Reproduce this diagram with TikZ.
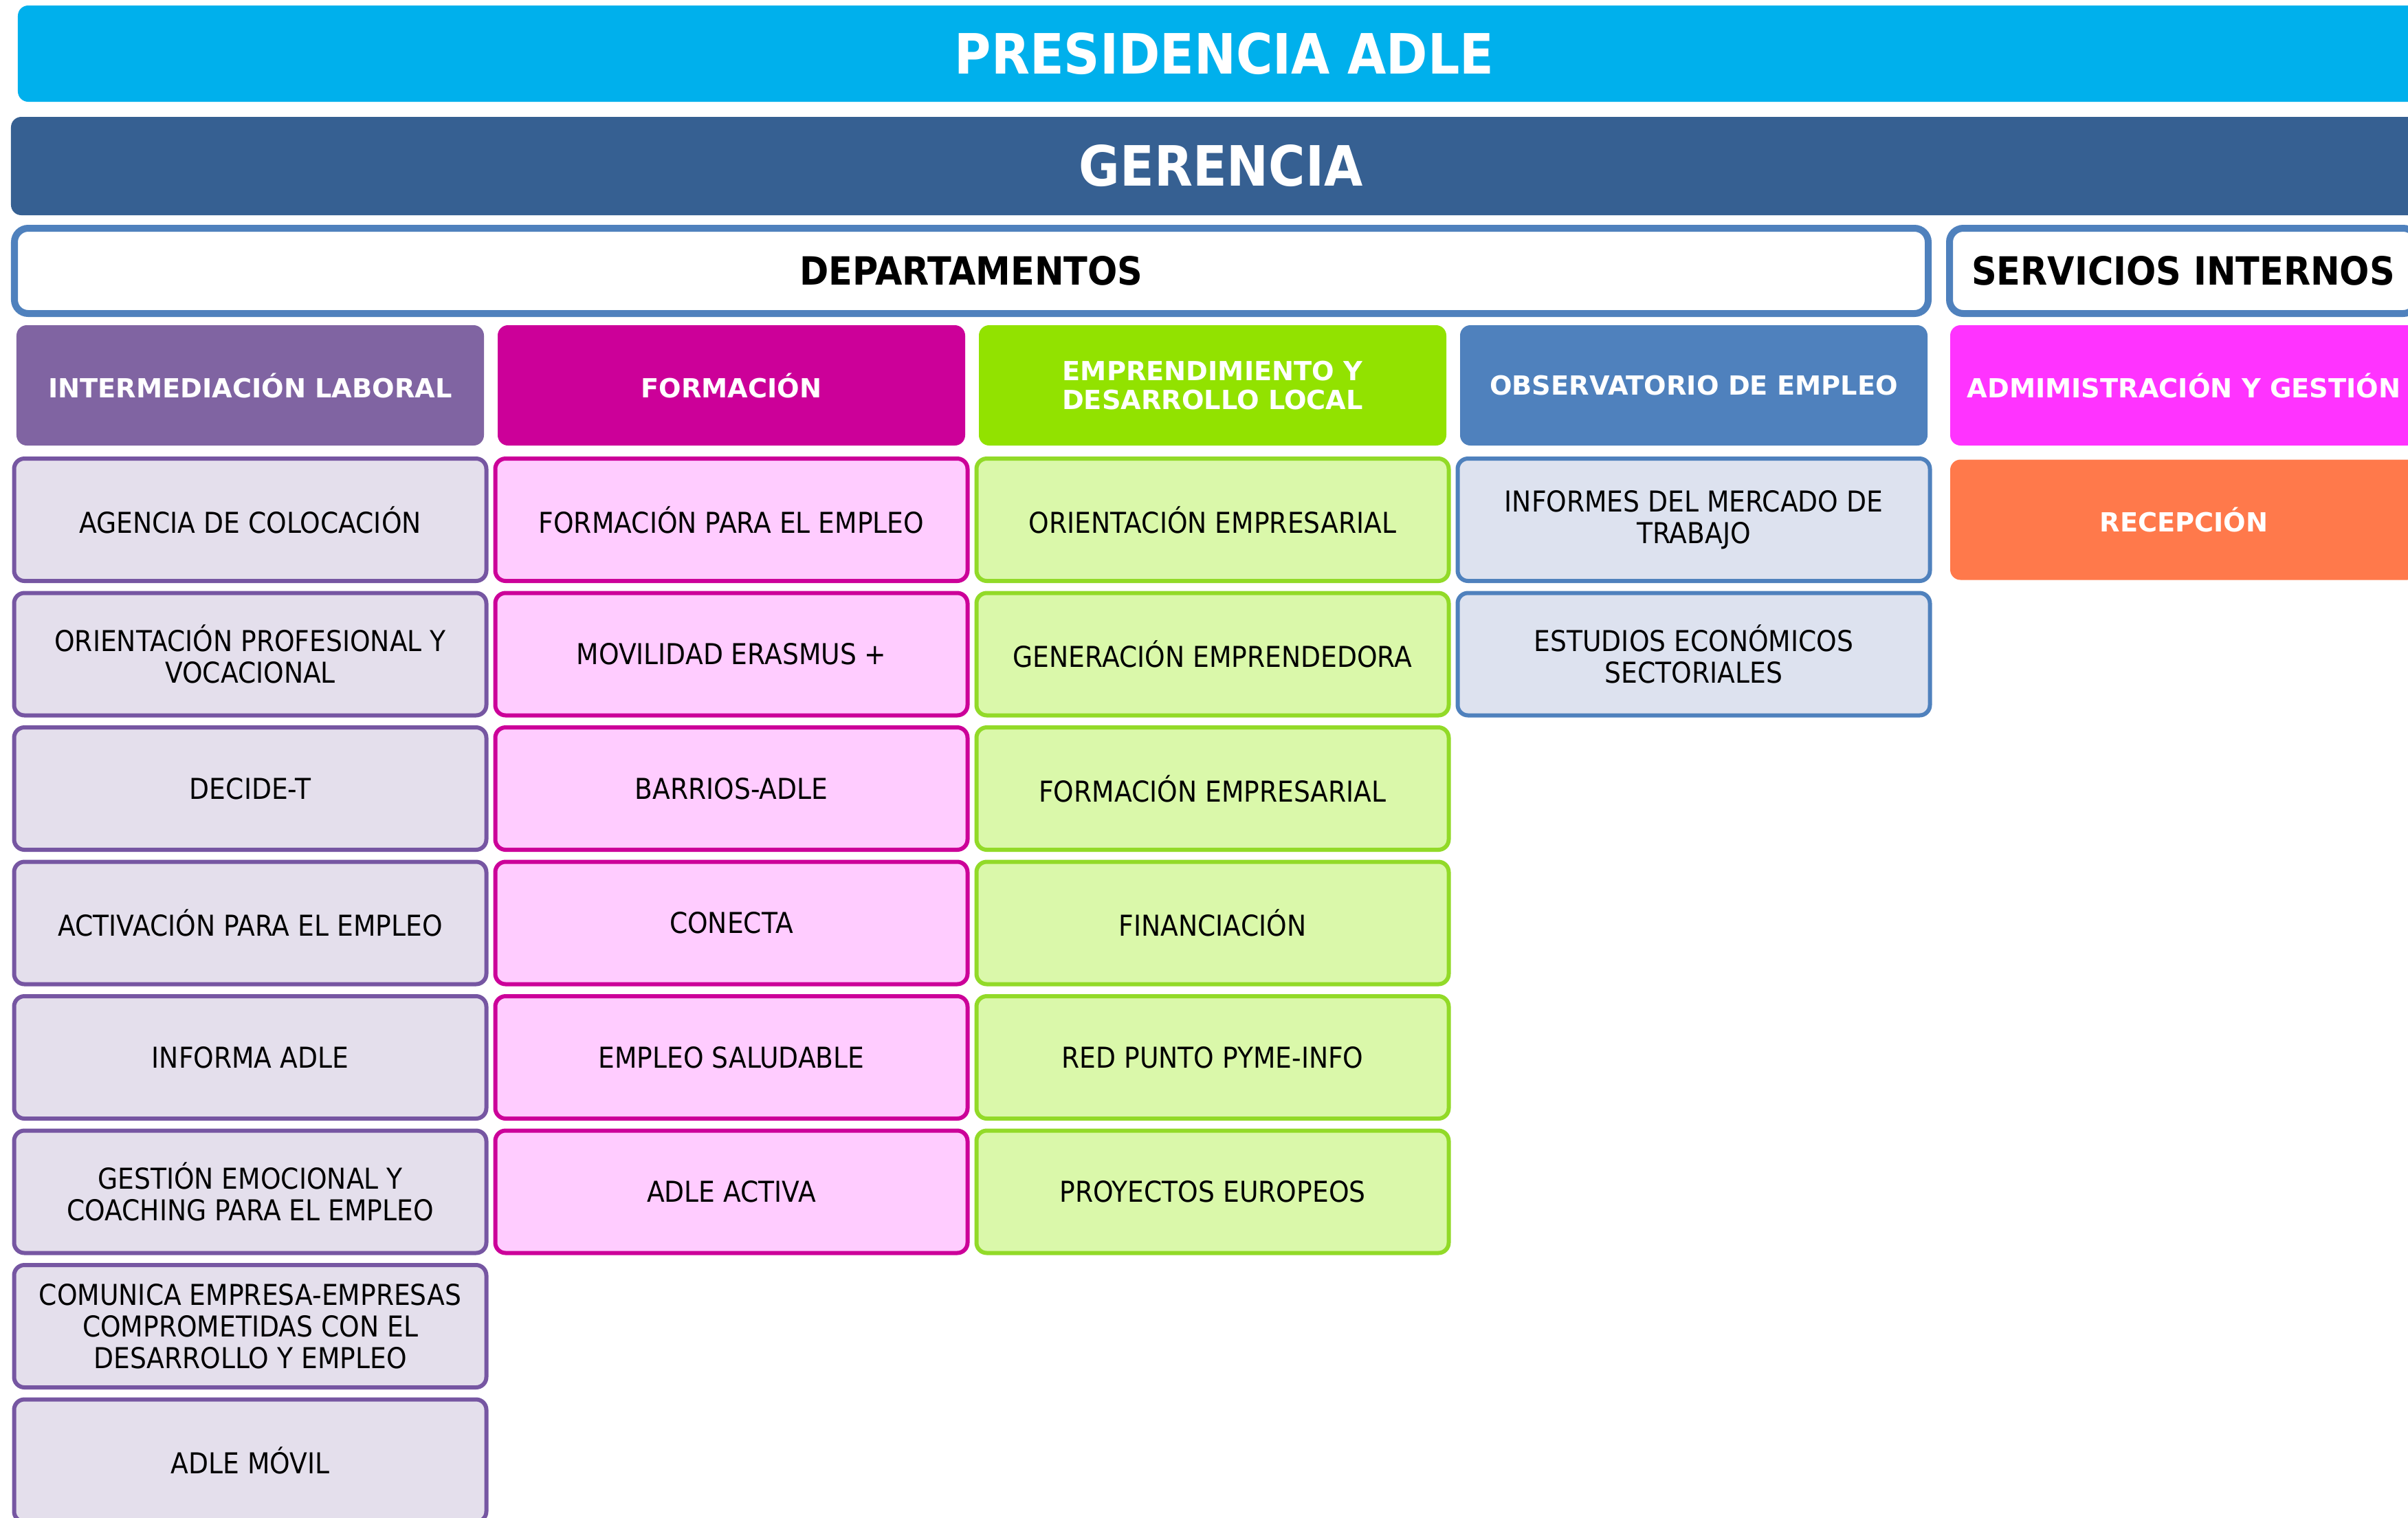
\documentclass[tikz,border=0pt]{standalone}
\usepackage{fontspec}
\setmainfont{DejaVu Sans}
\newfontfamily\narrowfont{DejaVu Sans}[FakeStretch=0.9]
\usetikzlibrary{positioning}

\definecolor{presblue}{RGB}{0,176,236}
\definecolor{gerblue}{RGB}{54,96,146}
\definecolor{deptline}{RGB}{79,129,189}
\definecolor{intpurple}{RGB}{128,100,162}
\definecolor{intline}{RGB}{118,86,162}
\definecolor{intfill}{RGB}{228,223,236}
\definecolor{formag}{RGB}{204,0,153}
\definecolor{forfill}{RGB}{255,204,255}
\definecolor{emprgreen}{RGB}{146,226,0}
\definecolor{emprline}{RGB}{146,218,40}
\definecolor{emprfill}{RGB}{218,248,170}
\definecolor{obsblue}{RGB}{79,129,189}
\definecolor{obsfill}{RGB}{221,226,239}
\definecolor{admpink}{RGB}{255,51,255}
\definecolor{recorange}{RGB}{255,121,75}

\tikzset{
	titlebar/.style={rectangle, rounded corners=0.15cm, inner sep=2pt, text=white, font=\narrowfont\bfseries\fontsize{23}{26}\selectfont},
	deptbar/.style={rectangle, draw=deptline, line width=0.1cm, rounded corners=0.2cm, fill=white, minimum height=1.24cm, font=\narrowfont\bfseries\fontsize{16.1}{18}\selectfont},
	head/.style={rectangle, rounded corners=0.15cm, inner sep=2pt, minimum width=6.8cm, minimum height=1.75cm, text=white, align=center, font=\bfseries\fontsize{10.9}{11.8}\selectfont},
	item/.style={rectangle, rounded corners=0.15cm, inner sep=2pt, line width=0.06cm, minimum width=6.87cm, minimum height=1.78cm, align=center, font=\narrowfont\fontsize{11.9}{13.1}\selectfont},
	% one look per department
	interm/.style={item, draw=intline, fill=intfill},
	formac/.style={item, draw=formag, fill=forfill},
	empren/.style={item, draw=emprline, fill=emprfill},
	observ/.style={item, draw=obsblue, fill=obsfill},
}

\begin{document}
\begin{tikzpicture}[node distance=1.955cm]
	\path[use as bounding box, fill=white] (0,0) rectangle (35.03,-22.07);
	\clip (0,0) rectangle (35.03,-22.07);
	
	% top bars
	\node (pres) [titlebar, fill=presblue, minimum width=35.10cm, minimum height=1.40cm] at (17.81,-0.78) {PRESIDENCIA ADLE};
	\node (ger) [titlebar, fill=gerblue, minimum width=35.20cm, minimum height=1.43cm] at (17.76,-2.415) {GERENCIA};
	\node (dep) [deptbar, minimum width=27.84cm] at (14.13,-3.94) {DEPARTAMENTOS};
	\node (serv) [deptbar, minimum width=6.80cm, right of=dep, xshift=15.675cm] {SERVICIOS INTERNOS};
	
	% department heads
	\node (hint) [head, fill=intpurple] at (3.64,-5.605) {INTERMEDIACIÓN LABORAL};
	\node (hfor) [head, fill=formag, right of=hint, xshift=5.045cm] {FORMACIÓN};
	\node (hemp) [head, fill=emprgreen, right of=hfor, xshift=5.045cm] {EMPRENDIMIENTO Y\\DESARROLLO LOCAL};
	\node (hobs) [head, fill=obsblue, right of=hemp, xshift=5.045cm] {OBSERVATORIO DE EMPLEO};
	\node (hadm) [head, fill=admpink, right of=hobs, xshift=5.175cm] {ADMIMISTRACIÓN Y GESTIÓN};
	
	% intermediacion laboral
	\node (int1) [interm, below of=hint] {AGENCIA DE COLOCACIÓN};
	\node (int2) [interm, below of=int1] {ORIENTACIÓN PROFESIONAL Y\\VOCACIONAL};
	\node (int3) [interm, below of=int2] {DECIDE-T};
	\node (int4) [interm, below of=int3] {ACTIVACIÓN PARA EL EMPLEO};
	\node (int5) [interm, below of=int4] {INFORMA ADLE};
	\node (int6) [interm, below of=int5] {GESTIÓN EMOCIONAL Y\\COACHING PARA EL EMPLEO};
	\node (int7) [interm, below of=int6] {COMUNICA EMPRESA-EMPRESAS\\COMPROMETIDAS CON EL\\DESARROLLO Y EMPLEO};
	\node (int8) [interm, below of=int7] {ADLE MÓVIL};
	
	% formacion
	\node (for1) [formac, below of=hfor] {FORMACIÓN PARA EL EMPLEO};
	\node (for2) [formac, below of=for1] {MOVILIDAD ERASMUS +};
	\node (for3) [formac, below of=for2] {BARRIOS-ADLE};
	\node (for4) [formac, below of=for3] {CONECTA};
	\node (for5) [formac, below of=for4] {EMPLEO SALUDABLE};
	\node (for6) [formac, below of=for5] {ADLE ACTIVA};
	
	% emprendimiento
	\node (emp1) [empren, below of=hemp] {ORIENTACIÓN EMPRESARIAL};
	\node (emp2) [empren, below of=emp1] {GENERACIÓN EMPRENDEDORA};
	\node (emp3) [empren, below of=emp2] {FORMACIÓN EMPRESARIAL};
	\node (emp4) [empren, below of=emp3] {FINANCIACIÓN};
	\node (emp5) [empren, below of=emp4] {RED PUNTO PYME-INFO};
	\node (emp6) [empren, below of=emp5] {PROYECTOS EUROPEOS};
	
	% observatorio
	\node (obs1) [observ, below of=hobs] {INFORMES DEL MERCADO DE\\TRABAJO};
	\node (obs2) [observ, below of=obs1] {ESTUDIOS ECONÓMICOS\\SECTORIALES};
	
	% servicios internos
	\node (rec) [head, fill=recorange, below of=hadm] {RECEPCIÓN};
\end{tikzpicture}
\end{document}
